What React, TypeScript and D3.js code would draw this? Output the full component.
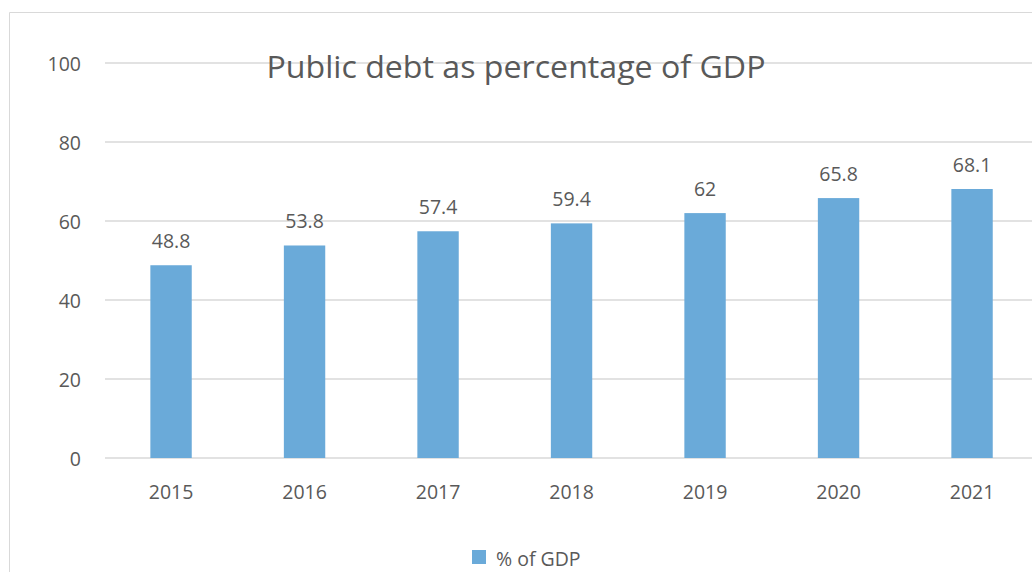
import { useMemo } from 'react'
import * as d3 from 'd3'

const YEARS = ['2015', '2016', '2017', '2018', '2019', '2020', '2021']
const DEBT = [48.8, 53.8, 57.4, 59.4, 62, 65.8, 68.1]
const Y_TICKS = [0, 20, 40, 60, 80, 100]
const TITLE = 'Public debt as percentage of GDP'
const SERIES_NAME = '% of GDP'

const W = 1032
const H = 572
const BAR = '#6aaad9'
const GRID = '#d9d9d9'
const TEXT = '#595959'
const FONT = '"Open Sans", "Noto Sans", sans-serif'
const LABEL_SIZE = 19.5

export default function App() {
  const x = useMemo(
    () => d3.scaleBand<string>().domain(YEARS).range([104.3, 1038.8]).paddingInner(0.69).paddingOuter(0.345),
    [],
  )
  const y = useMemo(() => d3.scaleLinear().domain([0, 100]).range([458, 63]), [])

  return (
    <svg
      width={W}
      height={H}
      style={{ position: 'fixed', left: 0, top: 0, background: '#fff', fontFamily: FONT }}
    >
      {/* chart area border (cropped on right/bottom) */}
      <path d={`M9.5,${H} V12.5 H${W}`} fill="none" stroke={GRID} strokeWidth={1} />

      {/* gridlines + y tick labels */}
      {Y_TICKS.map((t) => (
        <g key={t}>
          <line x1={105} x2={W} y1={y(t)} y2={y(t)} stroke={GRID} strokeWidth={1.3} />
          <text x={81} y={y(t) + 8} textAnchor="end" fontSize={LABEL_SIZE} fill={TEXT}>
            {t}
          </text>
        </g>
      ))}

      <text
        x={516}
        y={78}
        textAnchor="middle"
        fontSize={31}
        fill={TEXT}
        textLength={499}
        lengthAdjust="spacingAndGlyphs"
      >
        {TITLE}
      </text>

      {/* bars */}
      {YEARS.map((yr, i) => {
        const bx = x(yr)!
        const bw = x.bandwidth()
        return (
          <g key={yr}>
            <rect x={bx} y={y(DEBT[i])} width={bw} height={y(0) - y(DEBT[i])} fill={BAR} />
            <text x={bx + bw / 2} y={y(DEBT[i]) - 17} textAnchor="middle" fontSize={LABEL_SIZE} fill={TEXT}>
              {DEBT[i]}
            </text>
            <text x={bx + bw / 2} y={499} textAnchor="middle" fontSize={LABEL_SIZE} fill={TEXT}>
              {yr}
            </text>
          </g>
        )
      })}

      {/* legend */}
      <rect x={472} y={550} width={14} height={14} fill={BAR} />
      <text x={496} y={566} fontSize={LABEL_SIZE} fill={TEXT}>
        {SERIES_NAME}
      </text>
    </svg>
  )
}
